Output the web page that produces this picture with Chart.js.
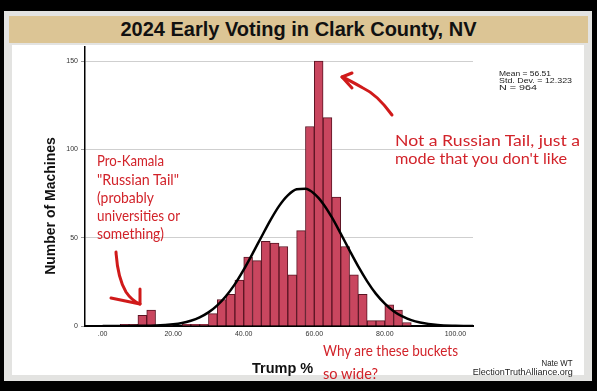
<!DOCTYPE html>
<html><head><meta charset="utf-8">
<script src="https://cdn.jsdelivr.net/npm/chart.js@4.4.1/dist/chart.umd.min.js"></script>
<style>
html,body{margin:0;padding:0;background:#000;width:597px;height:391px;overflow:hidden;font-family:"Liberation Sans",Arial,sans-serif;}
#frame{position:absolute;left:4px;top:11px;width:588px;height:370px;background:#e3e3e1;}
#band{position:absolute;left:9px;top:16px;width:579px;height:27px;background:#dcc595;color:#111;font-weight:bold;font-size:20px;line-height:27px;text-align:center;}
#white{position:absolute;left:12px;top:45px;width:572px;height:330px;background:#fff;}
canvas{position:absolute;left:0;top:0;}
.t{position:absolute;white-space:nowrap;display:inline-block;}
.red{color:#d2232a;font-family:Lato,"Open Sans",sans-serif;font-size:15px;line-height:18px;transform-origin:left center;}
.leg{color:#222;font-size:7.5px;line-height:7px;transform-origin:left center;}
.sig{color:#222;font-size:9px;line-height:9px;transform-origin:right center;}
#ytitle{left:50px;top:206px;font-weight:bold;font-size:14px;color:#111;transform:translate(-50%,-50%) rotate(-90deg);}
#xtitle{left:252px;top:359px;font-weight:bold;font-size:14.5px;line-height:18px;color:#111;}
svg{position:absolute;left:0;top:0;}
</style></head>
<body>
<div id="frame"></div>
<div id="band">2024 Early Voting in Clark County, NV</div>
<div id="white"></div>
<canvas id="c" width="597" height="391"></canvas>
<svg width="597" height="391" viewBox="0 0 597 391">
  <g fill="none" stroke="#d01a1a" stroke-width="3" stroke-linecap="round" stroke-linejoin="round">
    <path d="M116,252 C117,268 120,282 126,292 C130,298 135,302 140,304"/>
    <path d="M111,298 L140,304 L140,289"/>
    <path d="M392,115 C384,104 374,93 363,88 C356,84 349,80 342,77"/>
    <path d="M352,73 L342,77 L352,88"/>
  </g>
</svg>
<div class="t" id="ytitle">Number of Machines</div>
<div class="t" id="xtitle">Trump %</div>

<div class="t red" style="left:97px;top:151px" data-w="67">Pro-Kamala</div>
<div class="t red" style="left:97px;top:170px" data-w="82">"Russian Tail"</div>
<div class="t red" style="left:97px;top:188px" data-w="57">(probably</div>
<div class="t red" style="left:97px;top:206px" data-w="83">universities or</div>
<div class="t red" style="left:97px;top:224px" data-w="67">something)</div>

<div class="t red" style="left:395px;top:131px" data-w="185">Not a Russian Tail, just a</div>
<div class="t red" style="left:395px;top:149px" data-w="172">mode that you don't like</div>

<div class="t red" style="left:323px;top:341px" data-w="135">Why are these buckets</div>
<div class="t red" style="left:323px;top:364px" data-w="55">so wide?</div>

<div class="t leg" style="left:499px;top:70px" data-w="52">Mean = 56.51</div>
<div class="t leg" style="left:499px;top:77px" data-w="73">Std. Dev. = 12.323</div>
<div class="t leg" style="left:499px;top:84px" data-w="38">N = 964</div>

<div class="t sig" style="right:24px;top:358.5px" data-w="31">Nate WT</div>
<div class="t sig" style="right:24px;top:367.5px" data-w="100">ElectionTruthAlliance.org</div>

<script>
// Histogram bins (centre of each 2.5-wide bucket, Trump %)
const binCenters = [6.25, 8.75, 11.25, 13.75, 16.25, 18.75, 21.25, 23.75, 26.25, 28.75,
  31.25, 33.75, 36.25, 38.75, 41.25, 43.75, 46.25, 48.75, 51.25, 53.75,
  56.25, 58.75, 61.25, 63.75, 66.25, 68.75, 71.25, 73.75, 76.25, 78.75,
  81.25, 83.75, 86.25];
// Number of machines per bucket
const machineCounts = [1, 1, 6, 9, 0, 1, 0, 1, 1, 1,
  7, 15, 18, 26, 39, 37, 48, 47, 45, 29,
  54, 113, 150, 118, 73, 45, 29, 18, 3, 3,
  12, 9, 2];
// Normal curve overlay
const curveX = [0, 5, 10, 15, 20, 22.5, 25, 27.5, 30, 32.5, 35, 37.5, 40, 42.5, 45, 47.5,
  50, 52.5, 55, 57.5, 60, 62.5, 65, 67.5, 70, 72.5, 75, 77.5, 80, 82.5, 85, 87.5, 90, 95, 100, 105];
const curveY = [0, 0, 0.1, 0.3, 1.0, 1.7, 3.0, 4.9, 7.7, 11.7, 17.0, 23.7, 31.9, 41.0, 50.4, 59.7,
  67.9, 74.0, 77.4, 77.7, 74.9, 69.3, 61.5, 52.3, 42.8, 33.6, 25.3, 18.2, 12.7, 8.4, 5.4, 3.3, 2.0, 0.6, 0.15, 0];
const xTicks = [0, 20, 40, 60, 80, 100];
const xTickLabels = ['.00', '20.00', '40.00', '60.00', '80.00', '100.00'];

Chart.defaults.font.family = '"Liberation Sans", Arial, sans-serif';

const bars = binCenters.map((x, i) => ({x: x, y: machineCounts[i]}));
const curve = curveX.map((x, i) => ({x: x, y: curveY[i]}));

new Chart(document.getElementById('c'), {
  type: 'bar',
  data: {
    datasets: [
      {type: 'line', data: curve, borderColor: '#000', borderWidth: 2.5, pointRadius: 0,
       cubicInterpolationMode: 'monotone', fill: false, order: 0},
      {type: 'bar', data: bars, backgroundColor: '#c9465f', borderColor: '#5a1423', borderWidth: 1,
       barPercentage: 1, categoryPercentage: 1, order: 1}
    ]
  },
  options: {
    responsive: false, animation: false, devicePixelRatio: 1,
    layout: {padding: {left: 0, top: 47, right: 124, bottom: 45}},
    plugins: {legend: {display: false}, tooltip: {enabled: false}},
    scales: {
      x: {
        type: 'linear', min: -5, max: 105, offset: false,
        grid: {display: false, offset: false, drawTicks: false},
        border: {display: true, color: '#000', width: 2},
        afterBuildTicks(s) { s.ticks = xTicks.map(v => ({value: v})); },
        ticks: {padding: 4, color: '#333', font: {size: 7}, maxRotation: 0, autoSkip: false,
          callback: (v) => xTickLabels[xTicks.indexOf(v)]},
        afterFit(s) { s.height = 20; }
      },
      y: {
        min: 0, max: 158,
        grid: {color: '#cfcfcf', lineWidth: 1, drawTicks: true, tickLength: 4, tickColor: '#999'},
        border: {display: true, color: '#000', width: 1.5},
        ticks: {stepSize: 50, includeBounds: false, padding: 3, color: '#333', font: {size: 7}},
        afterFit(s) { s.width = 85; }
      }
    }
  }
});

document.querySelectorAll('[data-w]').forEach(el => {
  const w = el.getBoundingClientRect().width;
  const t = +el.dataset.w;
  el.style.transform = 'scaleX(' + (t / w).toFixed(3) + ')';
});
</script>
</body></html>
